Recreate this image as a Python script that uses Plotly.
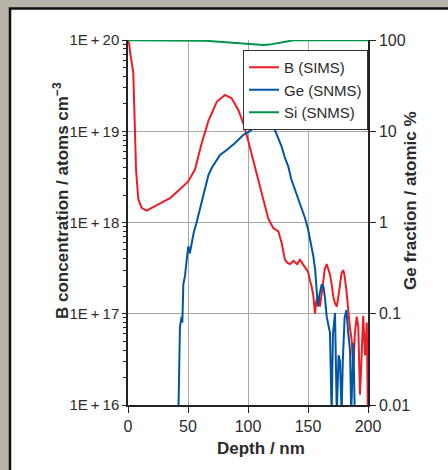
import plotly.graph_objects as go

# ---- data ----
b_depth = [0, 1, 2, 3, 4.4, 5.8, 6.7, 8.6, 11.4, 15.5, 21, 28, 35, 43, 50, 55.8, 61.4, 67, 74, 80.8,
           86.4, 92, 96, 100, 104.4, 110, 112.8, 116.9, 121, 125.3, 128, 130.8, 133, 135, 138, 141,
           143.3, 145, 147.5, 150, 151.7, 153, 154.4, 155.8, 157, 158.6, 160, 161.5, 162.8, 164,
           165.6, 167, 168.3, 170, 171, 172.5, 174, 175.5, 176.7, 178, 179.4, 180.5, 182, 183.6,
           185, 186.4, 187.8, 189, 190.6, 191.9, 193.3, 194.5, 196, 197.5, 199, 199.8]
b_conc = [1.0e20, 9.0e19, 7.0e19, 6.0e19, 4.4e19, 1.0e19, 3.8e18, 1.8e18, 1.45e18, 1.35e18, 1.48e18,
          1.65e18, 1.85e18, 2.3e18, 2.8e18, 3.8e18, 7.4e18, 1.3e19, 2.1e19, 2.5e19,
          2.3e19, 1.7e19, 1.23e19, 8.0e18, 4.8e18, 2.5e18, 1.9e18, 1.1e18, 8.7e17, 8.0e17, 6.0e17,
          3.9e17, 3.6e17, 3.5e17, 3.8e17, 3.5e17, 3.9e17, 3.6e17, 3.3e17, 2.9e17, 2.3e17, 2.0e17,
          1.6e17, 1.0e17, 1.4e17, 1.55e17, 1.2e17, 1.7e17, 2.6e17, 3.1e17, 3.5e17, 3.0e17, 2.7e17,
          2.0e17, 1.55e17, 1.3e17, 1.2e17, 1.6e17, 2.1e17, 2.8e17, 3.0e17, 2.6e17, 1.8e17, 1.0e17,
          7.0e16, 5.1e16, 2.4e16, 6.0e16, 9.3e16, 7.2e16, 1.3e16, 3.0e16, 9.5e16, 3.5e16, 8.0e16,
          1.0e16]

ge_depth = [42.0, 43.3, 44.7, 45.3, 46.1, 47.5, 49.0, 50.3, 51.5, 53.0, 55.0, 57.0, 59.0, 61.4,
            64.0, 67.0, 70.0, 72.5, 76.7, 82.0, 89.0, 96.0, 101.7, 107.0, 110.0, 112.8, 115.0,
            117.0, 120.0, 122.5, 125.0, 128.0, 131.0, 133.6, 136.0, 139.0, 141.0, 143.3, 145.5,
            147.5, 150.0, 151.7, 153.0, 154.4, 156.0, 157.2, 158.2, 159.5, 161.4, 162.8, 164.0,
            165.6, 167.0, 168.3, 169.7, 170.8, 172.5, 174.0, 175.5, 176.7, 178.0, 179.0, 180.5,
            182.0, 183.5, 185.0, 186.0, 187.8, 189.0, 190.0]
ge_frac = [0.008, 0.072, 0.093, 0.080, 0.21, 0.26, 0.40, 0.55, 0.46, 0.59, 0.80, 0.98, 1.25, 1.7,
           2.2, 3.3, 4.0, 4.5, 5.5, 6.2, 7.4, 9.1, 10.0, 11.7, 12.6, 14.0, 13.8, 13.2, 11.5, 10.2,
           8.5, 6.8, 5.0, 4.1, 3.0, 2.3, 2.0, 1.62, 1.35, 1.12, 0.85, 0.65, 0.52, 0.43, 0.30, 0.18,
           0.12, 0.16, 0.21, 0.20, 0.155, 0.093, 0.075, 0.062, 0.008, 0.060, 0.102, 0.008, 0.035,
           0.030, 0.008, 0.030, 0.090, 0.110, 0.062, 0.040, 0.008, 0.048, 0.008, 0.009]

si_depth = [0, 50, 55, 60, 65, 70, 80, 90, 100, 107, 113, 118, 123, 130, 138, 150, 200]
si_frac = [99.6, 99.6, 99.4, 99.0, 98.2, 97.0, 95.2, 93.5, 91.5, 89.5, 88.0, 89.0, 91.5, 95.5, 99.4,
           99.6, 99.6]

x_ticks = [0, 50, 100, 150, 200]
left_tickvals = [1e16, 1e17, 1e18, 1e19, 1e20]
left_ticktext = ["1E\u2009+\u200916", "1E\u2009+\u200917", "1E\u2009+\u200918",
                 "1E\u2009+\u200919", "1E\u2009+\u200920"]
right_tickvals = [0.01, 0.1, 1, 10, 100]
right_ticktext = ["0.01", "0.1", "1", "10", "100"]

RED = "#ee1c25"
BLUE = "#0055a5"
GREEN = "#00934a"
FONT = "Liberation Sans, Arial, sans-serif"
TXT = "#2b2b2b"
OUTER = "#b9b3a9"

fig = go.Figure()
fig.add_trace(go.Scatter(x=b_depth, y=b_conc, mode="lines", name="B (SIMS)",
                         line=dict(color=RED, width=2)))
fig.add_trace(go.Scatter(x=ge_depth, y=ge_frac, mode="lines", name="Ge (SNMS)",
                         line=dict(color=BLUE, width=2), yaxis="y2"))
fig.add_trace(go.Scatter(x=si_depth, y=si_frac, mode="lines", name="Si (SNMS)",
                         line=dict(color=GREEN, width=2), yaxis="y2"))

fig.update_layout(
    width=448, height=470,
    margin=dict(l=128, r=80, t=40, b=65, pad=0),
    paper_bgcolor=OUTER,
    plot_bgcolor="rgba(0,0,0,0)",
    font=dict(family=FONT, size=15, color=TXT),
    showlegend=True,
    legend=dict(x=1, xanchor="right", y=(405 - 50) / 365, yanchor="top",
                bgcolor="white", bordercolor="#333333", borderwidth=1,
                font=dict(family=FONT, size=15, color=TXT),
                tracegroupgap=0, itemwidth=30),
    xaxis=dict(range=[0, 200], tickvals=x_ticks, ticks="outside", ticklen=6,
               tickcolor="#222", showline=True, linecolor="#222", linewidth=1.5,
               showgrid=True, gridcolor="#a8a8a8", gridwidth=1, zeroline=False,
               tickfont=dict(size=16, color=TXT)),
    yaxis=dict(type="log", range=[16, 20], tickvals=left_tickvals, ticktext=left_ticktext,
               ticks="outside", ticklen=4, tickcolor="#222",
               showline=True, linecolor="#222", linewidth=1.5,
               showgrid=True, gridcolor="#a8a8a8", gridwidth=1, zeroline=False,
               minor=dict(ticks="outside", ticklen=3, tickcolor="#222", showgrid=False,
                          dtick="D1"),
               tickfont=dict(size=15, color=TXT)),
    yaxis2=dict(type="log", range=[-2, 2], overlaying="y", side="right",
                tickvals=right_tickvals, ticktext=right_ticktext,
                ticks="outside", ticklen=6, tickcolor="#222",
                showline=True, linecolor="#222", linewidth=1.5,
                showgrid=False, zeroline=False,
                tickfont=dict(size=16, color=TXT)),
)

# white panel with black frame (extends past the right and bottom edges)
fig.add_shape(type="rect", xref="paper", yref="paper",
              x0=(10 - 128) / 240, x1=(460 - 128) / 240,
              y0=-(480 - 405) / 365, y1=1 + (40 - 8.5) / 365,
              fillcolor="white", line=dict(color="#111111", width=2.5), layer="below")

# axis titles
fig.add_annotation(text="<b>B concentration / atoms cm<sup>\u22123</sup></b>",
                   xref="paper", yref="paper", x=(61 - 128) / 240, y=(405 - 201) / 365,
                   textangle=-90, showarrow=False, xanchor="center", yanchor="middle",
                   font=dict(family=FONT, size=17, color=TXT))
fig.add_annotation(text="<b>Ge fraction / atomic %</b>",
                   xref="paper", yref="paper", x=(410 - 128) / 240, y=(405 - 201) / 365,
                   textangle=-90, showarrow=False, xanchor="center", yanchor="middle",
                   font=dict(family=FONT, size=17, color=TXT))
fig.add_annotation(text="<b>Depth / nm</b>",
                   xref="paper", yref="paper", x=(261 - 128) / 240, y=(405 - 448) / 365,
                   showarrow=False, xanchor="center", yanchor="middle",
                   font=dict(family=FONT, size=17, color=TXT))

fig.write_html("out.html", config={"displayModeBar": False},
               post_script="document.body.style.margin='0';"
                           "document.body.style.background='" + OUTER + "';")
